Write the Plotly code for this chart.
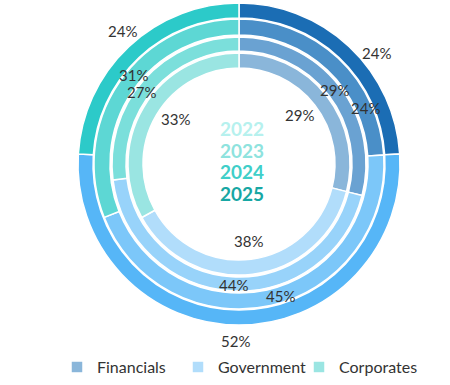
import math
import plotly.graph_objects as go

# ---- data ----
categories = ["Financials", "Government", "Corporates"]
years = ["2022", "2023", "2024", "2025"]
values_2022 = [29, 38, 33]
values_2023 = [29, 44, 27]
values_2024 = [24, 45, 31]
values_2025 = [24, 52, 24]
series = [values_2022, values_2023, values_2024, values_2025]

# ---- styling ----
W, H = 450, 385
CX, CY = 239, 164  # ring centre, px
ring_outer = [111, 127, 145, 161]
ring_inner = [96, 113, 129, 146]
label_radius = [78, 121, 138, 177]
label_nudge_deg = [[-1, 0, 5], [0, -1, -5], [23, -5, 6], [8, 1, 2]]
ring_colors = [
    ["#8ab6da", "#b1ddfb", "#9ae5e2"],
    ["#6aa2d2", "#98d3fa", "#7bdfdb"],
    ["#4a8fc8", "#7cc7f9", "#5dd7d4"],
    ["#1b6db4", "#56b6f7", "#2ccac9"],
]
year_colors = ["#b6f1ee", "#8ee3de", "#3fcfc9", "#17a7a4"]
FONT = "Lato"

fig = go.Figure()
for i, (yr, vals) in enumerate(zip(years, series)):
    R = ring_outer[i]
    fig.add_trace(go.Pie(
        labels=categories,
        values=vals,
        name=yr,
        hole=ring_inner[i] / R,
        sort=False,
        direction="clockwise",
        rotation=0,
        textinfo="none",
        hoverinfo="label+percent+name",
        marker=dict(colors=ring_colors[i], line=dict(color="white", width=1.5)),
        domain=dict(x=[(CX - R) / W, (CX + R) / W],
                    y=[1 - (CY + R) / H, 1 - (CY - R) / H]),
        showlegend=(i == 0),
    ))

annotations = []
# percent labels computed from slice mid-angles
for i, vals in enumerate(series):
    total = sum(vals)
    cum = 0
    for j, v in enumerate(vals):
        mid = (cum + v / 2) / total * 360 + label_nudge_deg[i][j]
        cum += v
        th = math.radians(mid)
        px = CX + label_radius[i] * math.sin(th)
        py = CY - label_radius[i] * math.cos(th)
        annotations.append(dict(
            x=px / W, y=1 - py / H, xref="paper", yref="paper",
            text=f"{round(v / total * 100)}%", showarrow=False,
            font=dict(family=FONT, size=15, color="#333333"),
            xanchor="center", yanchor="middle"))

# centre year labels
for k, yr in enumerate(years):
    py = 128 + k * 22
    annotations.append(dict(
        x=242 / W, y=1 - py / H, xref="paper", yref="paper",
        text=f"<b>{yr}</b>", showarrow=False,
        font=dict(family=FONT, size=19, color=year_colors[k]),
        xanchor="center", yanchor="middle"))

fig.update_layout(
    width=W, height=H,
    margin=dict(l=0, r=0, t=0, b=0),
    paper_bgcolor="white", plot_bgcolor="white",
    annotations=annotations,
    legend=dict(orientation="h", x=0.53, xanchor="center", y=1 - 367 / H,
                yanchor="middle", font=dict(family=FONT, size=16, color="#333333"),
                itemwidth=30, traceorder="normal",
                entrywidth=76, entrywidthmode="pixels"),
)

fig.write_html("out.html", config={"displayModeBar": False},
               post_script="document.body.style.margin='0';document.body.style.padding='0';")
